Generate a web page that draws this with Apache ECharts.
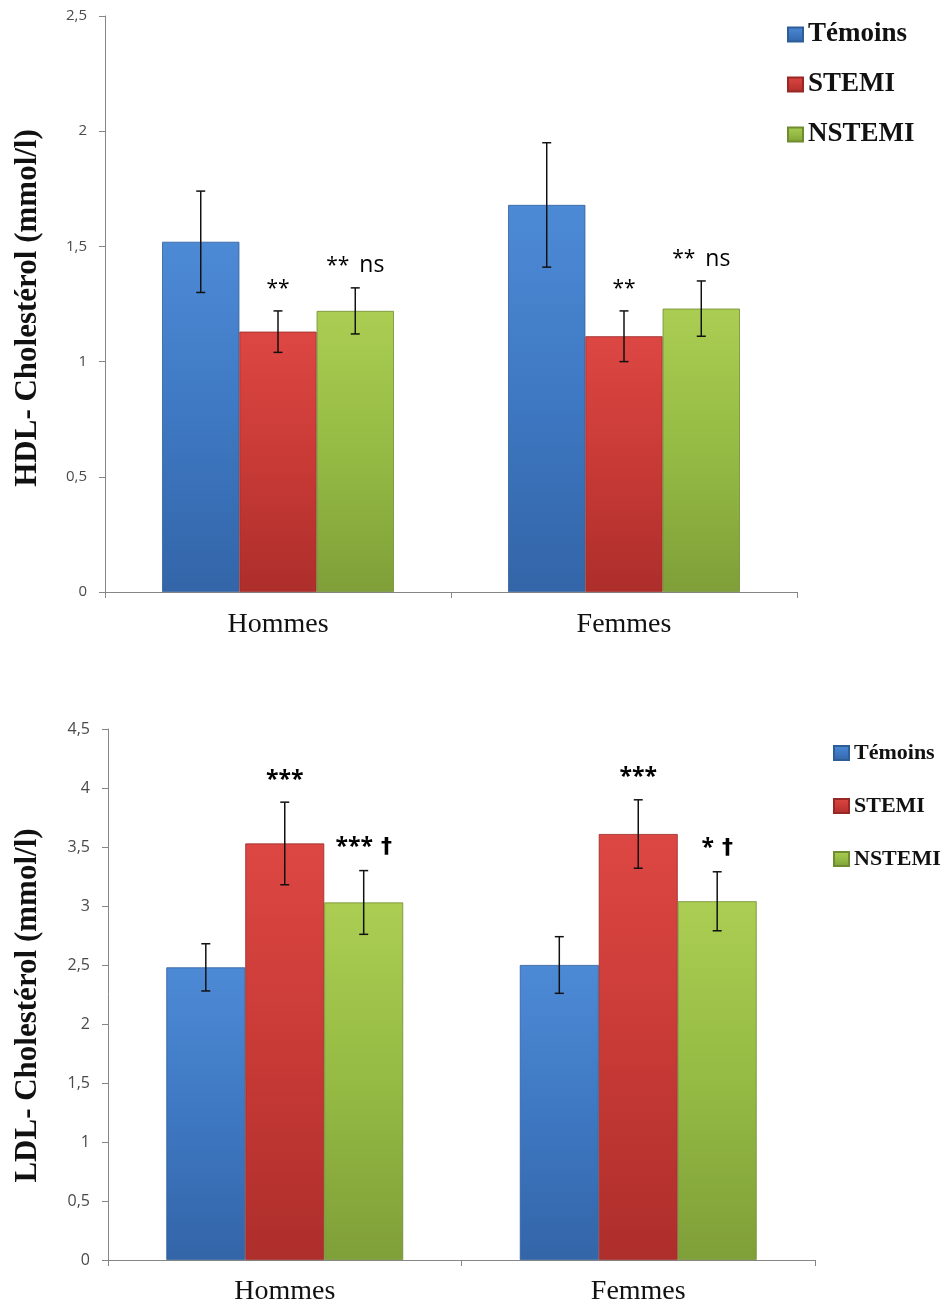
<!DOCTYPE html>
<html>
<head>
<meta charset="utf-8">
<script src="https://cdn.jsdelivr.net/npm/echarts@6/dist/echarts.min.js"></script>
<style>
  html, body { margin: 0; padding: 0; background: #fff; }
  #chart { width: 947px; height: 1306px; }
</style>
</head>
<body>
<div id="chart"></div>
<script>
// Groups and study populations
const groups = ['Hommes', 'Femmes'];
const seriesNames = ['Témoins', 'STEMI', 'NSTEMI'];

// HDL-cholestérol (mmol/l): means, standard deviations, significance marks
const hdlTemoins = [1.52, 1.68];
const hdlStemi = [1.13, 1.11];
const hdlNstemi = [1.22, 1.23];
const hdlTemoinsSd = [0.22, 0.27];
const hdlStemiSd = [0.09, 0.11];
const hdlNstemiSd = [0.10, 0.12];
const hdlTemoinsSig = ['', ''];
const hdlStemiSig = ['**', '**'];
const hdlNstemiSig = ['** ns', '** ns'];

// LDL-cholestérol (mmol/l)
const ldlTemoins = [2.48, 2.50];
const ldlStemi = [3.53, 3.61];
const ldlNstemi = [3.03, 3.04];
const ldlTemoinsSd = [0.20, 0.24];
const ldlStemiSd = [0.35, 0.29];
const ldlNstemiSd = [0.27, 0.25];
const ldlTemoinsSig = ['', ''];
const ldlStemiSig = ['***', '***'];
const ldlNstemiSig = ['*** †', '* †'];

// Y axis ranges
const hdlAxis = { min: 0, max: 2.5, interval: 0.5 };
const ldlAxis = { min: 0, max: 4.5, interval: 0.5 };

const CAT_GAP = 0.33;
const SERIF = '"Liberation Serif", "DejaVu Serif", serif';
const SANS = '"Open Sans", "Liberation Sans", sans-serif';

const fills = [
  ['#4d8ad6', '#3e78c2', '#3365a8'],
  ['#dd4743', '#c83a36', '#ad2e2b'],
  ['#abcd52', '#95bb44', '#7f9f38']
];
const borders = ['#2f5d98', '#982825', '#6f8c30'];

function gradient(c) {
  return new echarts.graphic.LinearGradient(0, 0, 0, 1, [
    { offset: 0, color: c[0] },
    { offset: 0.5, color: c[1] },
    { offset: 1, color: c[2] }
  ]);
}

function barSeries(idx, gridIdx, values) {
  return {
    type: 'bar',
    name: seriesNames[idx],
    xAxisIndex: gridIdx,
    yAxisIndex: gridIdx,
    data: values,
    barGap: '0%',
    barCategoryGap: (CAT_GAP * 100) + '%',
    itemStyle: { color: gradient(fills[idx]), borderColor: borders[idx], borderWidth: 0.8 },
    emphasis: { disabled: true }
  };
}

function sigRich(text) {
  return text.split(' ').map(t => {
    if (t === 'ns') return '{n|ns}';
    if (t === '†') return '{d|†}';
    return '{a|' + t + '}';
  }).join('{g|}');
}

function errorSeries(idx, gridIdx, means, sds, sigs, rich, sigOffset) {
  return {
    type: 'custom',
    name: seriesNames[idx] + ' SD',
    xAxisIndex: gridIdx,
    yAxisIndex: gridIdx,
    z: 10,
    silent: true,
    data: means.map((m, i) => [i, m, sds[i]]),
    renderItem(params, api) {
      const cat = api.value(0), m = api.value(1), sd = api.value(2);
      const band = api.size([1, 0])[0];
      const barW = band * (1 - CAT_GAP) / 3;
      const cx = api.coord([cat, m])[0] + (idx - 1) * barW;
      const yTop = api.coord([cat, m + sd])[1];
      const yBot = api.coord([cat, m - sd])[1];
      const cap = 4.5;
      const ls = { stroke: '#111', lineWidth: 1.5 };
      const children = [
        { type: 'line', shape: { x1: cx, y1: yTop, x2: cx, y2: yBot }, style: ls },
        { type: 'line', shape: { x1: cx - cap, y1: yTop, x2: cx + cap, y2: yTop }, style: ls },
        { type: 'line', shape: { x1: cx - cap, y1: yBot, x2: cx + cap, y2: yBot }, style: ls }
      ];
      const sig = sigs[params.dataIndex];
      if (sig) {
        children.push({
          type: 'text',
          x: cx, y: yTop - sigOffset,
          style: { text: sigRich(sig), rich: rich, align: 'center', verticalAlign: 'middle' }
        });
      }
      return { type: 'group', children };
    }
  };
}

const hdlRich = {
  a: { fontFamily: SANS, fontSize: 21, color: '#3a3a3a' },
  n: { fontFamily: SANS, fontSize: 23, color: '#333' },
  g: { width: 10 }
};
const ldlRich = {
  a: { fontFamily: SANS, fontSize: 23, fontWeight: 'bold', color: '#2a2a2a' },
  d: { fontFamily: '"DejaVu Sans", sans-serif', fontSize: 22, fontWeight: 'bold', color: '#111' },
  g: { width: 8 }
};

const commaFmt = v => String(v).replace('.', ',');

function xAxisFor(gridIdx, margin) {
  return {
    type: 'category',
    gridIndex: gridIdx,
    data: groups,
    axisLine: { lineStyle: { color: '#868686', width: 1 } },
    axisTick: { show: true, length: 6, lineStyle: { color: '#868686' } },
    axisLabel: { fontFamily: SERIF, fontSize: 28, color: '#111', margin: margin }
  };
}

function yAxisFor(gridIdx, range, name, nameGap, fontSize, namePad) {
  return {
    type: 'value',
    gridIndex: gridIdx,
    min: range.min, max: range.max, interval: range.interval,
    name: name,
    nameLocation: 'middle',
    nameGap: nameGap,
    nameTextStyle: {
      fontFamily: SERIF, fontWeight: 'bold', fontSize: 31, color: '#111',
      padding: [0, namePad, 0, 0]
    },
    axisLine: { show: true, lineStyle: { color: '#868686', width: 1 } },
    axisTick: { show: true, length: 6, lineStyle: { color: '#868686' } },
    splitLine: { show: false },
    axisLabel: { fontFamily: SANS, fontSize: fontSize, color: '#4a4a4a', margin: 18, formatter: commaFmt }
  };
}

function legendFor(left, top, fontSize, gap, textGap) {
  return {
    data: seriesNames,
    orient: 'vertical',
    left: left, top: top,
    padding: 0,
    icon: 'rect',
    itemWidth: 15, itemHeight: 14,
    itemGap: gap,
    itemTextGap: textGap,
    selectedMode: false,
    textStyle: { fontFamily: SERIF, fontWeight: 'bold', fontSize: fontSize, color: '#111' }
  };
}

const chart = echarts.init(document.getElementById('chart'), null, { renderer: 'canvas' });
chart.setOption({
  animation: false,
  backgroundColor: '#fff',
  legend: [
    legendFor(787, 21, 27, 23, 8),
    legendFor(833, 742, 22, 31, 3)
  ],
  grid: [
    { left: 105, right: 150, top: 16, height: 576 },
    { left: 108, right: 132, top: 729, height: 533 }
  ],
  xAxis: [xAxisFor(0, 19), xAxisFor(1, 18)],
  yAxis: [
    yAxisFor(0, hdlAxis, 'HDL- Cholestérol (mmol/l)', 62, 15, 8),
    yAxisFor(1, ldlAxis, 'LDL- Cholestérol (mmol/l)', 65, 16, 22)
  ],
  series: [
    barSeries(0, 0, hdlTemoins),
    barSeries(1, 0, hdlStemi),
    barSeries(2, 0, hdlNstemi),
    errorSeries(0, 0, hdlTemoins, hdlTemoinsSd, hdlTemoinsSig, hdlRich, 22),
    errorSeries(1, 0, hdlStemi, hdlStemiSd, hdlStemiSig, hdlRich, 22),
    errorSeries(2, 0, hdlNstemi, hdlNstemiSd, hdlNstemiSig, hdlRich, 22),
    barSeries(0, 1, ldlTemoins),
    barSeries(1, 1, ldlStemi),
    barSeries(2, 1, ldlNstemi),
    errorSeries(0, 1, ldlTemoins, ldlTemoinsSd, ldlTemoinsSig, ldlRich, 22),
    errorSeries(1, 1, ldlStemi, ldlStemiSd, ldlStemiSig, ldlRich, 22),
    errorSeries(2, 1, ldlNstemi, ldlNstemiSd, ldlNstemiSig, ldlRich, 23)
  ]
});
</script>
</body>
</html>
